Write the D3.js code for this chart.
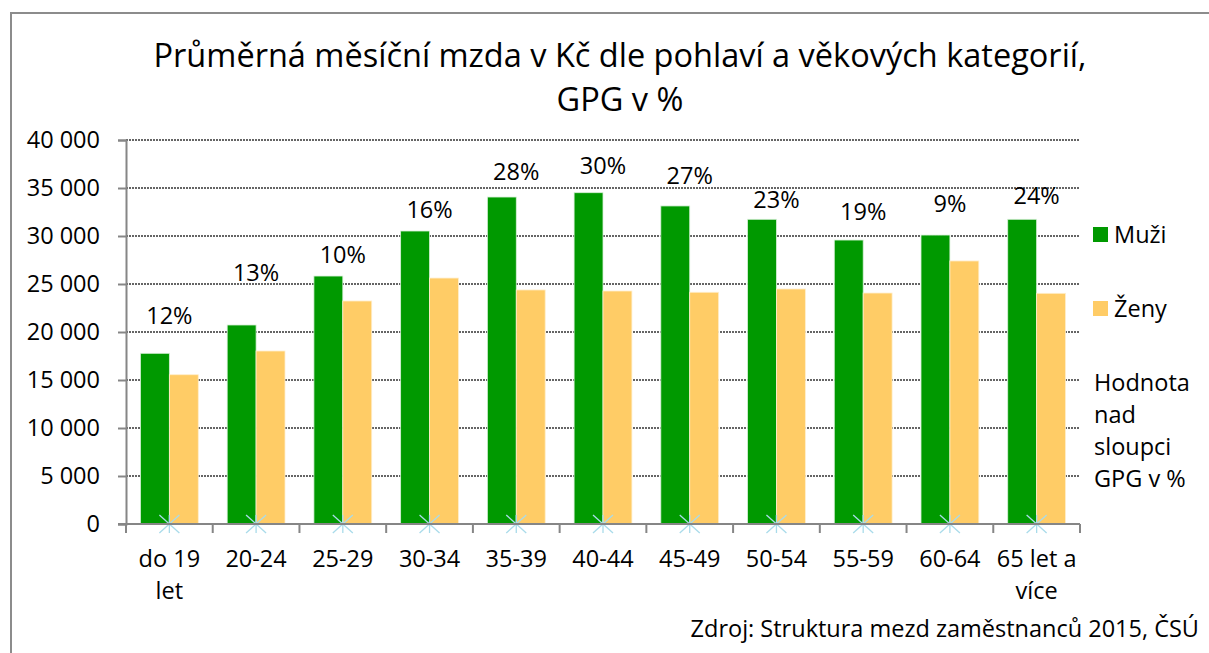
<!DOCTYPE html>
<html>
<head>
<meta charset="utf-8">
<script src="https://cdn.jsdelivr.net/npm/d3@7"></script>
<style>
  html, body { margin: 0; padding: 0; background: #fff; }
  svg { display: block; font-family: "Open Sans", "Noto Sans", sans-serif; }
</style>
</head>
<body>
<svg id="chart" width="1209" height="653"></svg>
<script>
const categories = ['do 19 let', '20-24', '25-29', '30-34', '35-39', '40-44', '45-49', '50-54', '55-59', '60-64', '65 let a více'];
const categoryLines = [['do 19', 'let'], ['20-24'], ['25-29'], ['30-34'], ['35-39'], ['40-44'], ['45-49'], ['50-54'], ['55-59'], ['60-64'], ['65 let a', 'více']];
const muzi = [17780, 20730, 25830, 30520, 34060, 34510, 33130, 31740, 29580, 30100, 31740];
const zeny = [15550, 18020, 23230, 25620, 24380, 24270, 24140, 24480, 24060, 27400, 24030];
const gpg = [12, 13, 10, 16, 28, 30, 27, 23, 19, 9, 24];
// hidden helper series carrying the GPG labels (value at label baseline)
const gpgAnchor = [20830, 25310, 27190, 31875, 35830, 36460, 35420, 32920, 31670, 32500, 33330];
const yTicks = [0, 5000, 10000, 15000, 20000, 25000, 30000, 35000, 40000];

const green = '#009900';
const orange = '#ffcc66';
const fs = 23.5;

const svg = d3.select('#chart');
const margin = { left: 126, right: 1080, top: 140, bottom: 524 };

// Chart frame
svg.append('rect')
  .attr('x', 11).attr('y', 13)
  .attr('width', 1260).attr('height', 700)
  .attr('fill', 'none')
  .attr('stroke', '#8c8c8c')
  .attr('stroke-width', 2);

// Title
const title = svg.append('text')
  .attr('text-anchor', 'middle')
  .attr('font-size', 32.5)
  .attr('fill', '#000');
title.append('tspan').attr('x', 620).attr('y', 67).text('Průměrná měsíční mzda v Kč dle pohlaví a věkových kategorií,');
title.append('tspan').attr('x', 620).attr('y', 111).text('GPG v %');

const x = d3.scaleBand()
  .domain(categories)
  .range([margin.left, margin.right])
  .paddingInner(0)
  .paddingOuter(0);

const inner = d3.scaleBand()
  .domain(['m', 'z'])
  .range([x.bandwidth() / 6, x.bandwidth() * 5 / 6]);

const y = d3.scaleLinear()
  .domain([0, 40000])
  .range([margin.bottom, margin.top]);

// Grid lines
svg.append('g')
  .selectAll('line')
  .data(yTicks.filter(d => d > 0))
  .enter().append('line')
  .attr('x1', margin.left).attr('x2', margin.right)
  .attr('y1', d => y(d)).attr('y2', d => y(d))
  .attr('stroke', '#333')
  .attr('stroke-width', 1.5)
  .attr('stroke-dasharray', '2,1');

// Bars
const groups = svg.append('g')
  .selectAll('g')
  .data(categories)
  .enter().append('g')
  .attr('transform', d => `translate(${x(d)},0)`);

groups.append('rect')
  .attr('x', inner('m'))
  .attr('width', inner.bandwidth())
  .attr('y', (d, i) => y(muzi[i]))
  .attr('height', (d, i) => y(0) - y(muzi[i]))
  .attr('fill', green)
  .attr('stroke', '#d8f0d8')
  .attr('stroke-width', 0.8);

groups.append('rect')
  .attr('x', inner('z'))
  .attr('width', inner.bandwidth())
  .attr('y', (d, i) => y(zeny[i]))
  .attr('height', (d, i) => y(0) - y(zeny[i]))
  .attr('fill', orange)
  .attr('stroke', '#ffeecc')
  .attr('stroke-width', 0.8);

// GPG labels
groups.append('text')
  .attr('x', x.bandwidth() / 2)
  .attr('y', (d, i) => y(gpgAnchor[i]))
  .attr('text-anchor', 'middle')
  .attr('font-size', fs)
  .attr('fill', '#000')
  .text((d, i) => gpg[i] + '%');

// Y axis
const yAxis = svg.append('g')
  .attr('transform', `translate(${margin.left},0)`)
  .call(d3.axisLeft(y)
    .tickValues(yTicks)
    .tickSize(8)
    .tickPadding(18)
    .tickFormat(d => d3.format(',')(d).replace(/,/g, ' ')));
yAxis.select('.domain').attr('stroke', '#868686').attr('stroke-width', 2);
yAxis.selectAll('.tick line').attr('stroke', '#868686').attr('stroke-width', 2);
yAxis.selectAll('.tick text')
  .attr('font-size', fs)
  .attr('font-family', '"Open Sans", sans-serif')
  .attr('fill', '#000');

// Star markers at baseline
const star = groups.append('g')
  .attr('transform', `translate(${x.bandwidth() / 2},${y(0)})`)
  .attr('stroke', '#a9dbea')
  .attr('stroke-width', 1.3);
star.append('line').attr('x1', -10).attr('y1', -9).attr('x2', 10).attr('y2', 9);
star.append('line').attr('x1', -10).attr('y1', 9).attr('x2', 10).attr('y2', -9);
star.append('line').attr('x1', 0).attr('y1', -9).attr('x2', 0).attr('y2', 9);

// X axis
const xAxis = svg.append('g')
  .attr('transform', `translate(0,${margin.bottom})`);
xAxis.append('line')
  .attr('x1', margin.left - 8).attr('x2', margin.right)
  .attr('stroke', '#868686').attr('stroke-width', 2);
xAxis.selectAll('.tk')
  .data(categories.map(c => x(c)).concat([margin.right]))
  .enter().append('line')
  .attr('x1', d => d).attr('x2', d => d)
  .attr('y1', 0).attr('y2', 9)
  .attr('stroke', '#868686').attr('stroke-width', 2);

const xl = svg.append('g')
  .selectAll('text')
  .data(categories)
  .enter().append('text')
  .attr('text-anchor', 'middle')
  .attr('font-size', fs)
  .attr('fill', '#000');
xl.each(function(d, i) {
  const t = d3.select(this);
  categoryLines[i].forEach((line, j) => {
    t.append('tspan')
      .attr('x', x(d) + x.bandwidth() / 2)
      .attr('y', 567 + j * 32)
      .text(line);
  });
});

// Legend
const legend = svg.append('g').attr('font-size', fs).attr('fill', '#000');
[['Muži', green, 227], ['Ženy', orange, 301]].forEach(([label, color, ly]) => {
  legend.append('rect').attr('x', 1093).attr('y', ly).attr('width', 15).attr('height', 15).attr('fill', color);
  legend.append('text').attr('x', 1114).attr('y', ly + 16).text(label);
});
const note = legend.append('text');
['Hodnota', 'nad', 'sloupci', 'GPG v %'].forEach((line, j) => {
  note.append('tspan').attr('x', 1094).attr('y', 391 + j * 32).text(line);
});

// Source
svg.append('text')
  .attr('x', 1199).attr('y', 637)
  .attr('text-anchor', 'end')
  .attr('font-size', fs)
  .attr('fill', '#000')
  .text('Zdroj: Struktura mezd zaměstnanců 2015, ČSÚ');
</script>
</body>
</html>
